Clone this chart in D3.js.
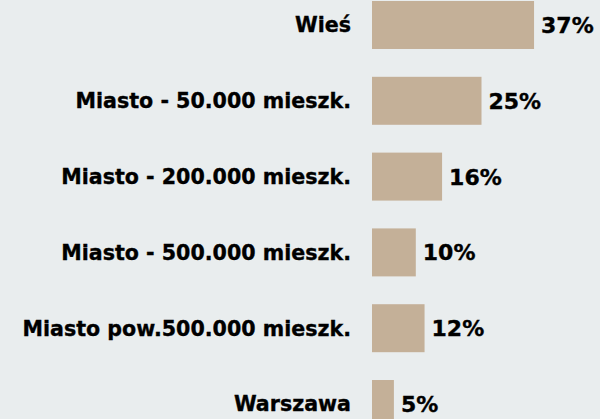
<!DOCTYPE html>
<html>
<head>
<meta charset="utf-8">
<script src="https://cdn.jsdelivr.net/npm/d3@7"></script>
<style>
html,body{margin:0;padding:0;background:#e9edee;overflow:hidden;}
svg{display:block;}
</style>
</head>
<body>
<svg id="chart" width="600" height="419"></svg>
<script>
const categories = ["Wieś","Miasto - 50.000 mieszk.","Miasto - 200.000 mieszk.","Miasto - 500.000 mieszk.","Miasto pow.500.000 mieszk.","Warszawa"];
const values = [37,25,16,10,12,5];
const valueLabels = ["37%","25%","16%","10%","12%","5%"];

const svg = d3.select("#chart");
const x0 = 372;
const x = d3.scaleLinear().domain([0,1]).range([x0, x0+4.38]);
const y = d3.scaleBand().domain(categories).range([1, 1 + 6*75.8 - 27.8]).paddingInner(0.367).paddingOuter(0);

svg.append("rect").attr("width",600).attr("height",419).attr("fill","#e9edee");

svg.selectAll("rect.bar").data(categories).enter().append("rect")
  .attr("class","bar")
  .attr("x", x(0))
  .attr("y", d=>y(d))
  .attr("width", (d,i)=>x(values[i])-x(0))
  .attr("height", y.bandwidth())
  .attr("fill","#c4b098");

svg.selectAll("text.cat").data(categories).enter().append("text")
  .attr("class","cat")
  .attr("x", 351)
  .attr("y", d=>y(d)+y.bandwidth()/2)
  .attr("dy","0.36em")
  .attr("text-anchor","end")
  .attr("font-family","DejaVu Sans")
  .attr("font-weight","bold")
  .attr("font-size","20.6px")
  .attr("fill","#000")
  .attr("stroke","#000")
  .attr("stroke-width",0.35)
  .text(d=>d);

svg.selectAll("text.val").data(categories).enter().append("text")
  .attr("class","val")
  .attr("x", (d,i)=>x(values[i])+7)
  .attr("y", d=>y(d)+y.bandwidth()/2)
  .attr("dy","0.36em")
  .attr("font-family","DejaVu Sans")
  .attr("font-weight","bold")
  .attr("font-size","22px")
  .attr("fill","#000")
  .attr("stroke","#000")
  .attr("stroke-width",0.35)
  .text((d,i)=>valueLabels[i]);
</script>
</body>
</html>
